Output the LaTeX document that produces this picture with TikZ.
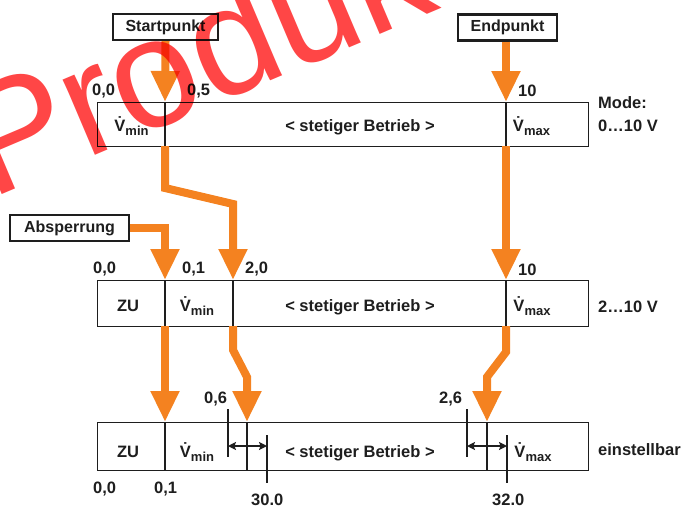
\documentclass[tikz,border=0pt]{standalone}
\usepackage{fontspec}
\setmainfont{Liberation Sans}
\usetikzlibrary{arrows.meta}
\definecolor{orng}{RGB}{244,130,32}
\definecolor{wm}{RGB}{255,70,70}
\definecolor{ink}{RGB}{30,30,30}
\newcommand\Vq[1]{\.{V}\raisebox{-4.5pt}{\fontsize{13}{13}\selectfont #1}}
\begin{document}
\begin{tikzpicture}[x=1pt,y=-1pt,
  lbl/.style={font=\bfseries\fontsize{16.5}{18}\selectfont, text=ink, inner sep=0pt},
  lw/.style={lbl, anchor=base west},
  lc/.style={lbl, anchor=base},
  tagbox/.style={draw=ink, line width=2.4pt, font=\bfseries\fontsize{16}{18}\selectfont, text=ink, inner sep=0pt, minimum height=26pt},
  rowbox/.style={draw=ink, line width=1.1pt, anchor=north west, inner sep=0pt, minimum width=491pt},
  divider/.style={draw=ink, line width=1.1pt},
  flow/.style={draw=orng, line width=8pt, line join=miter, -{Triangle[width=27pt,length=31pt]}},
  dim/.style={draw=ink, line width=1.2pt, {Stealth[length=8pt,width=8pt,inset=1.5pt]}-{Stealth[length=8pt,width=8pt,inset=1.5pt]}},
  tick/.style={draw=ink, line width=1.2pt}
]
\useasboundingbox (0,0) rectangle (684,506);
\fill[white] (0,0) rectangle (684,506);

% rows
\node[rowbox, minimum height=44pt] (r1) at (97,102) {};
\node[rowbox, minimum height=46pt] (r2) at (97,280) {};
\node[rowbox, minimum height=48pt] (r3) at (97,422) {};
\draw[divider] (165,102) -- (165,146);
\draw[divider] (506,102) -- (506,146);
\draw[divider] (165,280) -- (165,326);
\draw[divider] (233,280) -- (233,326);
\draw[divider] (506,280) -- (506,326);
\draw[divider] (165,422) -- (165,470);
\draw[divider] (247,422) -- (247,470);
\draw[divider] (487,422) -- (487,470);

% tag boxes
\node[tagbox, minimum width=105pt] (sp) at (165.5,27) {Startpunkt};
\node[tagbox, minimum width=99pt] (ep) at (507.5,27.5) {Endpunkt};
\node[tagbox, minimum width=119pt] (ab) at (69.5,228) {Absperrung};

% connection points
\coordinate (a1) at (165,102);
\coordinate (e1) at (506,102);
\coordinate (a1b) at (165,146);
\coordinate (e1b) at (506,146);
\coordinate (a2) at (165,280);
\coordinate (b2) at (233,280);
\coordinate (e2) at (506,280);
\coordinate (a2b) at (165,326);
\coordinate (b2b) at (233,326);
\coordinate (e2b) at (506,326);
\coordinate (a3) at (165,422);
\coordinate (b3) at (247,422);
\coordinate (e3) at (487,422);

% orange flows
\draw[flow] (sp.south) -- (a1);
\draw[flow] (ep.south -| e1) -- (e1);
\draw[flow] (a1b) -- (165,188) -- (233,204) -- (b2);
\draw[flow] (e1b) -- (e2);
\draw[flow] (ab.east) -- (165,228) -- (a2);
\draw[flow] (a2b) -- (a3);
\draw[flow] (b2b) -- (233,350) -- (247,377) -- (b3);
\draw[flow] (e2b) -- (506,352) -- (487,377) -- (e3);

% dimension ticks
\coordinate (t1) at (228,409);
\coordinate (t2) at (267,435);
\coordinate (t3) at (467,409);
\coordinate (t4) at (507,435);
\draw[tick] (t1) -- (228,457);
\draw[tick] (t2) -- (267,483);
\draw[tick] (t3) -- (467,457);
\draw[tick] (t4) -- (507,483);
\draw[dim] (228,446) -- (267,446);
\draw[dim] (467,446) -- (507,446);

% row texts
\node[lc] (r1t1) at (131.5,131) {\Vq{min}};
\node[lc] (r1t2) at (360,131) {< stetiger Betrieb >};
\node[lc] (r1t3) at (531.5,131) {\Vq{max}};
\node[lc] (r2t0) at (128,311) {ZU};
\node[lc] (r2t1) at (197,311) {\Vq{min}};
\node[lc] (r2t2) at (360,311) {< stetiger Betrieb >};
\node[lc] (r2t3) at (532,311) {\Vq{max}};
\node[lc] (r3t0) at (128,457) {ZU};
\node[lc] (r3t1) at (197,457) {\Vq{min}};
\node[lc] (r3t2) at (360,457) {< stetiger Betrieb >};
\node[lc] (r3t3) at (533,457) {\Vq{max}};

% labels
\node[lw] (l1) at (92,95) {0,0};
\node[lw] (l2) at (187,95) {0,5};
\node[lw] (l3) at (518,96) {10};
\node[lw] (l4) at (598,108) {Mode:};
\node[lw] (l5) at (598,131) {0…10 V};
\node[lw] (l6) at (93,273) {0,0};
\node[lw] (l7) at (182,273) {0,1};
\node[lw] (l8) at (245,273) {2,0};
\node[lw] (l9) at (518,275) {10};
\node[lw] (l10) at (598,312) {2…10 V};
\node[lw] (l11) at (204,403) {0,6};
\node[lw] (l12) at (439,403) {2,6};
\node[lw] (l13) at (598,455) {einstellbar};
\node[lw] (l14) at (93,493) {0,0};
\node[lw] (l15) at (154,493) {0,1};
\node[lw] (l16) at (251,505) {30.0};
\node[lw] (l17) at (492,505) {32.0};

% watermark
\begin{scope}[blend mode=multiply]
\node[text=wm, font=\fontsize{155}{155}\selectfont, rotate=23, anchor=base west, inner sep=0pt] (wmk) at (-10,200) {Produkt};
\end{scope}
\end{tikzpicture}
\end{document}
